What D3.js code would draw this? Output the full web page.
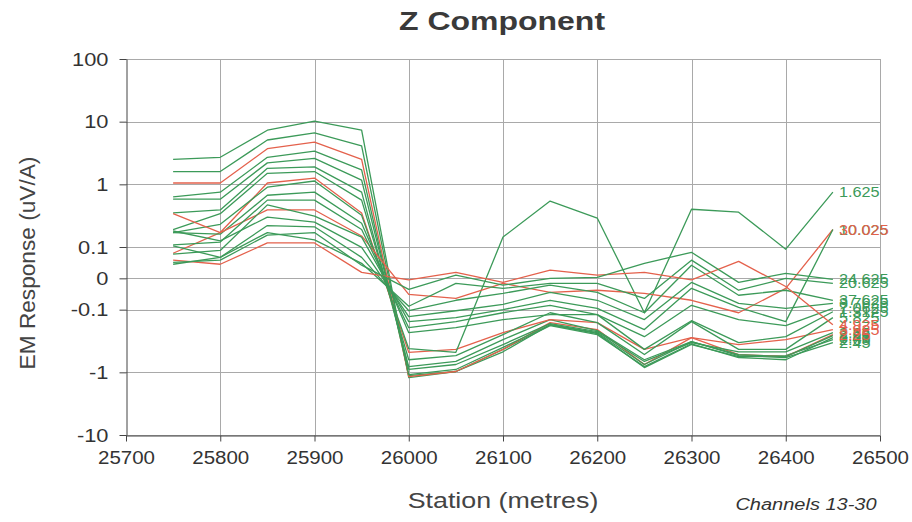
<!DOCTYPE html>
<html><head><meta charset="utf-8">
<script src="https://cdn.jsdelivr.net/npm/d3@7"></script>
<style>
body{margin:0;background:#fff}
svg{display:block}
text{font-family:"Liberation Sans",Arial,sans-serif;fill:#333}
</style>
</head><body>
<svg id="chart" width="912" height="522"></svg>
<script>
// ---------- data ----------
const stations = [25750,25800,25850,25900,25950,26000,26050,26100,26150,26200,26250,26300,26350,26400,26450];
const xTickValues = [25700,25800,25900,26000,26100,26200,26300,26400,26500];
const yTickValues = [100,10,1,0.1,0,-0.1,-1,-10];
const yTickLabels = ["100","10","1","0.1","0","-0.1","-1","-10"];

const ch2_65   = [2.5,2.7,7.3,10.2,7.3,-1.21,-0.97,-0.47,-0.174,-0.24,-0.84,-0.36,-0.56,-0.54,-0.30];
const ch3_45   = [1.6,1.6,5.1,6.6,4.1,-1.13,-0.97,-0.43,-0.18,-0.25,-0.81,-0.35,-0.58,-0.63,-0.28];
const ch2_25   = [1.05,1.05,3.7,4.7,2.5,-1.17,-0.97,-0.43,-0.161,-0.208,-0.75,-0.28,-0.52,-0.56,-0.25];
const ch2_45   = [0.63,0.75,2.7,3.4,1.7,-1.09,-0.90,-0.40,-0.174,-0.233,-0.75,-0.324,-0.54,-0.58,-0.336];
const ch2_85   = [0.58,0.58,2.2,2.6,1.17,-0.90,-0.75,-0.36,-0.167,-0.224,-0.67,-0.336,-0.47,-0.47,-0.233];
const ch3_85   = [0.35,0.39,1.8,1.9,0.75,-0.81,-0.67,-0.30,-0.144,-0.216,-0.63,-0.324,-0.52,-0.56,-0.26];
const ch3_925  = [0.08,0.17,1.05,1.26,0.35,-0.48,-0.43,-0.233,-0.144,-0.161,-0.43,-0.28,-0.36,-0.30,-0.208];
const ch5_825  = [0.19,0.34,1.5,1.6,0.56,-0.63,-0.54,-0.25,-0.112,-0.161,-0.52,-0.155,-0.43,-0.43,-0.134];
const ch1_625  = [0.17,0.23,0.9,1.13,0.32,-0.42,-0.48,0.144,0.54,0.29,-0.112,0.40,0.36,0.093,0.75];
const ch1_3125 = [0.17,0.16,0.67,0.75,0.24,-0.233,-0.194,-0.144,-0.12,-0.12,-0.43,-0.15,-0.336,-0.27,-0.108];
const ch30_025 = [0.34,0.17,0.39,0.39,0.15,-0.051,-0.064,-0.016,-0.045,-0.038,-0.048,-0.070,-0.112,-0.032,0.19];
const ch7_0625 = [0.108,0.12,0.56,0.56,0.19,-0.194,-0.155,-0.112,-0.086,-0.12,-0.27,-0.086,-0.144,-0.18,-0.096];
const ch10_025 = [0.077,0.089,0.47,0.31,0.144,-0.155,-0.134,-0.1,-0.070,-0.096,-0.208,-0.032,-0.093,-0.155,0.19];
const ch8_7625 = [0.18,0.125,0.30,0.25,0.099,-0.129,-0.104,-0.083,-0.045,-0.070,-0.144,-0.013,-0.080,-0.096,-0.080];
const ch37_625 = [0.104,0.067,0.22,0.21,0.067,-0.104,-0.070,-0.048,-0.022,-0.045,-0.112,0.042,-0.054,-0.038,-0.070];
const ch20_625 = [0.045,0.067,0.17,0.13,0.048,-0.089,-0.016,-0.032,-0.016,-0.016,-0.064,0.058,-0.038,0,-0.016];
const ch4_925  = [0.058,0.045,0.116,0.116,0.019,-0.005,0.019,-0.013,0.026,0.010,0.019,-0.005,0.054,-0.026,-0.174];
const ch24_625 = [0.051,0.058,0.155,0.17,0.042,-0.035,0.010,-0.022,0,0.003,0.048,0.083,-0.013,0.016,-0.003];

const channelNames  = ["2.65","3.45","2.25","2.45","2.85","3.85","3.925","5.825","1.625","1.3125","30.025","7.0625","10.025","8.7625","37.625","20.625","4.925","24.625"];
const channelValues = [ch2_65,ch3_45,ch2_25,ch2_45,ch2_85,ch3_85,ch3_925,ch5_825,ch1_625,ch1_3125,ch30_025,ch7_0625,ch10_025,ch8_7625,ch37_625,ch20_625,ch4_925,ch24_625];
const channelKinds  = ["g","g","r","g","g","g","r","g","g","g","r","g","g","g","g","g","r","g"];

// ---------- drawing ----------
const GREEN = "#3c9a59", RED = "#e4614c";
const svg = d3.select("#chart");
const plotL = 126, plotR = 880, plotT = 59, plotB = 435;

// symmetric log transform: log decades beyond +-0.1, linear in between
const symT = v => Math.abs(v) >= 0.1 ? Math.sign(v) * (Math.log10(Math.abs(v) / 0.1) + 0.5) : v / 0.2;
const x = d3.scaleLinear().domain([25700, 26500]).range([plotL, plotR]);
const yLin = d3.scaleLinear().domain([symT(-10), symT(100)]).range([plotB, plotT]);
const y = v => yLin(symT(v));

// grid
const grid = svg.append("g").attr("stroke", "#a9a9a9").attr("stroke-width", 1);
grid.selectAll("line.h").data(yTickValues).join("line").attr("class", "h")
  .attr("x1", plotL).attr("x2", plotR)
  .attr("y1", d => Math.round(y(d)) + 0.5).attr("y2", d => Math.round(y(d)) + 0.5);
grid.selectAll("line.v").data(xTickValues.slice(1)).join("line").attr("class", "v")
  .attr("y1", plotT).attr("y2", plotB)
  .attr("x1", d => Math.round(x(d)) + 0.5).attr("x2", d => Math.round(x(d)) + 0.5);

// axes
const yAxis = svg.append("g").attr("transform", `translate(${plotL + 0.5},0)`)
  .call(d3.axisLeft(yLin).tickValues(yTickValues.map(symT))
        .tickFormat((d, i) => yTickLabels[i]).tickSize(7).tickSizeOuter(0).tickPadding(0));
const xAxis = svg.append("g").attr("transform", `translate(0,${plotB + 0.5})`)
  .call(d3.axisBottom(x).tickValues(xTickValues).tickFormat(d3.format("d"))
        .tickSize(6).tickSizeOuter(0).tickPadding(9));
[yAxis, xAxis].forEach(a => {
  a.select(".domain").attr("stroke", "#444");
  a.selectAll(".tick line").attr("stroke", "#444");
  a.selectAll(".tick text").attr("fill", "#333").style("font-size", "19px")
    .style("font-family", '"Liberation Sans",Arial,sans-serif');
});
yAxis.selectAll(".tick text").attr("x", null).attr("transform", "translate(-18,0) scale(1.15,1)");
xAxis.selectAll(".tick text").attr("transform", "scale(1.08,1)");

// lines
const line = d3.line().x((d, i) => x(stations[i])).y(d => y(d));
const series = channelValues.map((vals, i) => ({vals, name: channelNames[i], kind: channelKinds[i], color: channelKinds[i] === "r" ? RED : GREEN}));
svg.append("g").selectAll("path").data(series).join("path")
  .attr("d", d => line(d.vals)).attr("fill", "none")
  .attr("stroke", d => d.color).attr("stroke-width", 1.3).attr("stroke-linejoin", "round");

// end labels (greens first, reds on top as in the original)
const labelOrder = series.filter(d => d.kind === "g").concat(series.filter(d => d.kind === "r"));
svg.append("g").selectAll("text").data(labelOrder).join("text")
  .attr("transform", d => `translate(${x(stations[stations.length - 1]) + 6},${y(d.vals[d.vals.length - 1]) + 5}) scale(1.08,1)`)
  .style("font-size", "15px").style("fill", d => d.color)
  .text(d => d.name);

// titles
function label(str, cx, cy, size, sx, opts = {}) {
  return svg.append("text")
    .attr("transform", `translate(${cx},${cy})${opts.rot ? " rotate(" + opts.rot + ")" : ""} scale(${sx},1)`)
    .attr("text-anchor", "middle").style("font-size", size + "px")
    .style("font-weight", opts.bold ? "bold" : "normal")
    .style("font-style", opts.italic ? "italic" : "normal")
    .style("fill", opts.fill || "#333")
    .text(str);
}
label("Z Component", 502, 30, 25, 1.28, {bold: true, fill: "#3a3a3a"});
label("EM Response (uV/A)", 35, 263, 22, 1.03, {rot: -90, fill: "#444"});
label("Station (metres)", 503, 508, 22, 1.22, {fill: "#444"});
label("Channels 13-30", 806, 510, 16, 1.25, {italic: true, fill: "#333"});
</script>
</body></html>
